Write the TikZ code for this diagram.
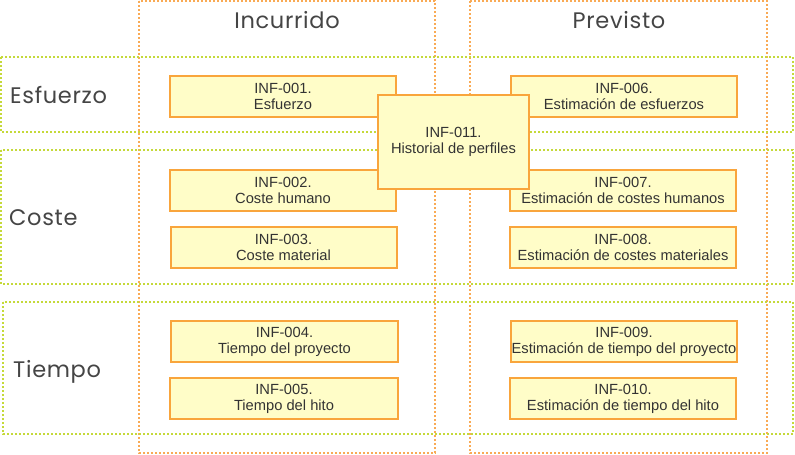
\documentclass[tikz,border=0pt]{standalone}
\usepackage{fontspec}
\setmainfont{Liberation Sans}
\newfontfamily\headfont[LetterSpace=3]{Poppins}
\definecolor{lanegreen}{HTML}{C5D93A}
\definecolor{laneorange}{HTML}{F9AA55}
\definecolor{boxfill}{HTML}{FFFDC8}
\definecolor{boxline}{HTML}{F9A53C}
\definecolor{txt}{HTML}{333333}
\definecolor{headtxt}{HTML}{454545}
\begin{document}
\begin{tikzpicture}[x=1pt,y=-1pt,
  rowlane/.style={draw=lanegreen, line width=2pt, dash pattern=on 2pt off 2pt},
  collane/.style={draw=laneorange, line width=2pt, dash pattern=on 2pt off 2pt},
  infbox/.style={draw=boxline, fill=boxfill, line width=2pt, rectangle, inner sep=0pt,
    minimum width=226pt, minimum height=41pt, align=center, text=txt,
    font=\fontsize{14.7}{16}\selectfont},
  headlbl/.style={text=headtxt, inner sep=0pt, font=\headfont\fontsize{22.5}{26}\selectfont}]
\useasboundingbox (0,0) rectangle (795,455);
% lanes
\draw[collane] (139,1) rectangle (435,453);
\draw[collane] (470,1) rectangle (767,453);
\draw[rowlane] (1,57) rectangle (793,132);
\draw[rowlane] (1,150) rectangle (793,284);
\draw[rowlane] (3,302) rectangle (793,434);
% headers
\node[headlbl, anchor=base] (hinc) at (287,28) {Incurrido};
\node[headlbl, anchor=base] (hprev) at (619,28) {Previsto};
\node[headlbl, anchor=base west] (hesf) at (10,103) {Esfuerzo};
\node[headlbl, anchor=base west] (hcos) at (9,225) {Coste};
\node[headlbl, anchor=base west] (htie) at (13,377.5) {Tiempo};
% boxes
\node[infbox] (b1) at (283,96.5) {INF-001.\\Esfuerzo};
\node[infbox] (b2) at (283,190) {INF-002.\\Coste humano};
\node[infbox] (b3) at (283.5,247.5) {INF-003.\\Coste material};
\node[infbox, minimum width=227pt] (b4) at (284.5,341.5) {INF-004.\\Tiempo del proyecto};
\node[infbox, minimum width=228pt] (b5) at (284,398.5) {INF-005.\\Tiempo del hito};
\node[infbox] (b6) at (624,96.5) {INF-006.\\Estimación de esfuerzos};
\node[infbox] (b7) at (623,190.5) {INF-007.\\Estimación de costes humanos};
\node[infbox] (b8) at (623,247.5) {INF-008.\\Estimación de costes materiales};
\node[infbox] (b9) at (624,341.5) {INF-009.\\Estimación de tiempo del proyecto};
\node[infbox] (b10) at (623,398.5) {INF-010.\\Estimación de tiempo del hito};
\node[infbox, minimum width=151pt, minimum height=94pt] (b11) at (453.5,142) {INF-011.\\Historial de perfiles};
\end{tikzpicture}
\end{document}
